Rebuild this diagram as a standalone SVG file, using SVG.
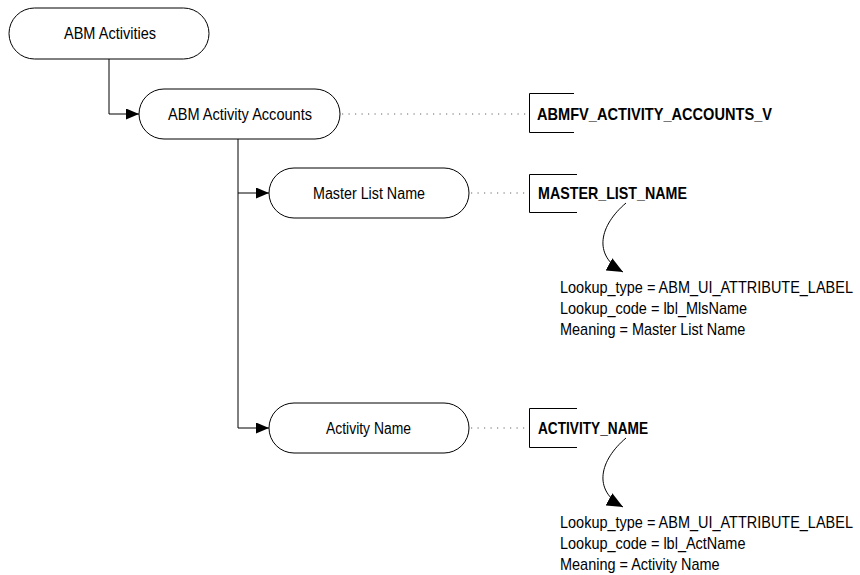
<svg xmlns="http://www.w3.org/2000/svg" width="860" height="575" viewBox="0 0 860 575">
<style>
.node{fill:#fff;stroke:#000;stroke-width:1}
.lbl{font-family:"Liberation Sans",Arial,sans-serif;font-size:16px;fill:#000}
.col{font-family:"Liberation Sans",Arial,sans-serif;font-size:17px;font-weight:bold;fill:#000}
.ln{fill:none;stroke:#000;stroke-width:1}
.dot{fill:none;stroke:#666;stroke-width:1.2;stroke-dasharray:1.2,5.3}
.brk{fill:none;stroke:#000;stroke-width:1}
</style>
<defs>
<marker id="ah" markerWidth="13" markerHeight="11" refX="13" refY="5.5" orient="auto" markerUnits="userSpaceOnUse">
<path d="M0,0 L13,5.5 L0,11 Z" fill="#000"/>
</marker>
<marker id="ah2" markerWidth="16" markerHeight="14" refX="16" refY="7" orient="auto" markerUnits="userSpaceOnUse">
<path d="M0,0 L16,7 L0,14 Z" fill="#000"/>
</marker>
</defs>
<rect width="860" height="575" fill="#fff"/>
<g id="connectors">
<polyline class="ln" points="109,59 109,114 139,114" marker-end="url(#ah)"/>
<polyline class="ln" points="238,139 238,193 269,193" marker-end="url(#ah)"/>
<polyline class="ln" points="238,193 238,428 269,428" marker-end="url(#ah)"/>
<line class="dot" x1="342" y1="114" x2="527" y2="114"/>
<line class="dot" x1="471" y1="193" x2="527" y2="193"/>
<line class="dot" x1="471" y1="428" x2="527" y2="428"/>
<path class="ln" d="M626,203 C600,225 592,255 623,272" marker-end="url(#ah2)"/>
<path class="ln" d="M626,438 C600,460 592,490 623,507" marker-end="url(#ah2)"/>
</g>
<g id="abm-activities">
<rect class="node" x="9" y="8" width="200" height="51" rx="25.5"/>
<text class="lbl" x="64" y="39" textLength="92" lengthAdjust="spacingAndGlyphs">ABM Activities</text>
</g>
<g id="abm-activity-accounts">
<rect class="node" x="139" y="89" width="201" height="50" rx="25"/>
<text class="lbl" x="168" y="119.5" textLength="144" lengthAdjust="spacingAndGlyphs">ABM Activity Accounts</text>
</g>
<g id="master-list-name">
<rect class="node" x="269" y="168" width="200" height="50" rx="25"/>
<text class="lbl" x="313" y="198.5" textLength="112" lengthAdjust="spacingAndGlyphs">Master List Name</text>
</g>
<g id="activity-name">
<rect class="node" x="269" y="403" width="200" height="50" rx="25"/>
<text class="lbl" x="326" y="433.5" textLength="85" lengthAdjust="spacingAndGlyphs">Activity Name</text>
</g>
<g id="abmfv-activity-accounts-v">
<polyline class="brk" points="574,93.5 529.5,93.5 529.5,132.5 574,132.5"/>
<text class="col" x="537" y="120" textLength="235" lengthAdjust="spacingAndGlyphs">ABMFV_ACTIVITY_ACCOUNTS_V</text>
</g>
<g id="master-list-name-col">
<polyline class="brk" points="577,174.5 529.5,174.5 529.5,212.5 577,212.5"/>
<text class="col" x="538" y="199" textLength="149" lengthAdjust="spacingAndGlyphs">MASTER_LIST_NAME</text>
</g>
<g id="activity-name-col">
<polyline class="brk" points="577,408.5 529.5,408.5 529.5,447.5 577,447.5"/>
<text class="col" x="538" y="434" textLength="110" lengthAdjust="spacingAndGlyphs">ACTIVITY_NAME</text>
</g>
<g id="lookup-master" transform="translate(560,0) scale(0.905,1)">
<text class="lbl" x="0" y="293">Lookup_type = ABM_UI_ATTRIBUTE_LABEL</text>
<text class="lbl" x="0" y="314">Lookup_code = lbl_MlsName</text>
<text class="lbl" x="0" y="335">Meaning = Master List Name</text>
</g>
<g id="lookup-activity" transform="translate(560,0) scale(0.905,1)">
<text class="lbl" x="0" y="528">Lookup_type = ABM_UI_ATTRIBUTE_LABEL</text>
<text class="lbl" x="0" y="549">Lookup_code = lbl_ActName</text>
<text class="lbl" x="0" y="570">Meaning = Activity Name</text>
</g>
</svg>
